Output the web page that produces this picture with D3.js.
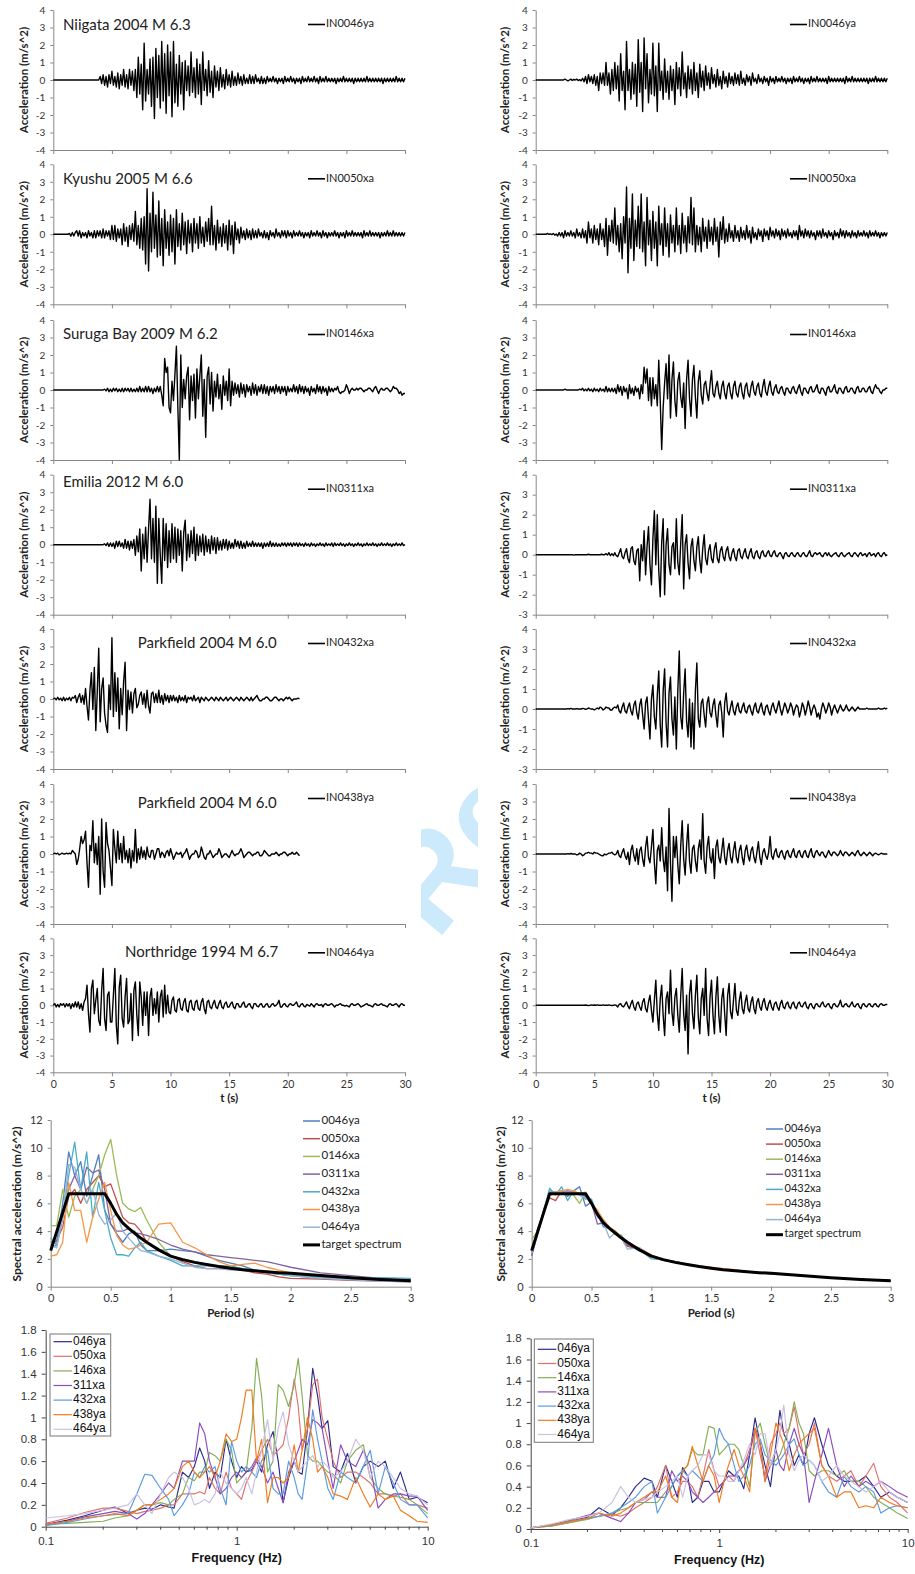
<!DOCTYPE html>
<html><head><meta charset="utf-8">
<script src="https://cdn.jsdelivr.net/npm/d3@7"></script>
<style>body{margin:0;background:#fff}svg{display:block}</style>
</head><body>
<script>
// ---------------- DATA ----------------
const DT = 0.125;
const recordIds = ["IN0046ya","IN0050xa","IN0146xa","IN0311xa","IN0432xa","IN0438ya","IN0464ya"];
const eventTitles = ["Niigata 2004 M 6.3","Kyushu 2005 M 6.6","Suruga Bay 2009 M 6.2","Emilia 2012 M 6.0","Parkfield 2004 M 6.0","Parkfield 2004 M 6.0","Northridge 1994 M 6.7"];
const timeTicks = [0,5,10,15,20,25,30];
const origYMin = [-4,-4,-4,-4,-4,-4,-4];
const matchYMin = [-4,-4,-4,-3,-3,-4,-4];

// original records (left column) — one row per second
const accOrig0046ya = [
0,0,0,0,0,0,0,0, 0,0,0,0,0,0,0,0, 0,0,0,0,0,0,0,0, 0,0,0,0,0,0,0,0,
0.2,-0.2,0.3,-0.3,0.2,-0.4,0.3,-0.2,
0.5,-0.3,0.2,-0.4,0.4,-0.5,0.3,-0.3,
0.6,-0.4,0.3,-0.5,0.6,-0.3,0.5,-0.6,
0.6,-1.0,1.3,-0.8,0.9,-1.7,2.1,-1.2,
0.6,-0.8,1.2,-1.5,1.3,-2.2,1.8,-1.0,
1.4,-1.6,2.2,-1.2,1.5,-1.9,2.0,-0.9,
1.6,-2.1,2.2,-1.3,0.9,-1.5,1.4,-0.8,
1.0,-1.7,1.1,-0.6,0.8,-0.9,1.6,-0.7,
0.7,-1.0,1.2,-0.8,0.9,-1.4,1.6,-0.6,
0.6,-0.9,1.1,-0.7,0.5,-1.0,0.8,-0.4,
0.5,-0.6,0.7,-0.4,0.3,-0.5,0.6,-0.3,
0.3,-0.4,0.5,-0.3,0.2,-0.3,0.4,-0.2,
0.2,-0.3,0.3,-0.2,0.1,-0.2,0.3,-0.2,
0.2,-0.2,0.3,-0.1,0.1,-0.2,0.2,-0.2,
0.1,-0.2,0.2,-0.1,0.1,-0.1,0.2,-0.1,
0.1,-0.2,0.1,-0.1,0.1,-0.2,0.2,-0.1,
0.1,-0.1,0.2,-0.1,0.1,-0.2,0.1,-0.1,
0.1,-0.2,0.2,-0.1,0.1,-0.1,0.2,-0.1,
0.1,-0.1,0.2,-0.1,0.1,-0.2,0.2,-0.1,
0.1,-0.1,0.2,-0.1,0.1,-0.1,0.1,-0.1,
0.1,-0.2,0.1,-0.1,0.1,-0.1,0.2,-0.1,
0.1,-0.1,0.1,-0.1,0.1,-0.2,0.1,-0.1,
0.1,-0.1,0.1,-0.1,0.1,-0.1,0.2,-0.1,
0.1,-0.1,0.1,-0.1,0.1,-0.1,0.1,-0.1,
0.1,-0.2,0.1,-0.1,0.1,-0.1,0.1,-0.1,
0.1,-0.1,0.2,-0.1,0.1,-0.1,0.1,-0.1,
0.1];
const accOrig0050xa = [
0,0,0,0,0,0,0,0,
0,0,0,0.05,-0.1,0.1,-0.1,0.1,
0.2,-0.1,0.2,-0.2,0.1,-0.1,0.1,-0.2,
0.2,-0.1,0.1,-0.2,0.2,-0.2,0.2,-0.1,
0.2,-0.2,0.3,-0.2,0.2,-0.1,0.2,-0.3,
0.5,-0.3,0.5,-0.4,0.3,-0.2,0.3,-0.6,
0.6,-0.4,0.4,-0.7,0.5,-0.3,0.6,-0.4,
1.3,-0.6,0.5,-0.8,0.9,-0.9,1.0,-1.7,
2.6,-2.1,1.2,-1.0,2.4,-0.8,1.1,-1.3,
1.9,-1.2,0.9,-1.8,1.4,-0.8,0.7,-1.2,
1.1,-1.0,0.9,-1.7,1.4,-0.7,0.6,-0.9,
1.2,-0.6,0.7,-1.1,0.8,-0.5,0.6,-1.0,
0.9,-0.5,0.6,-0.8,1.0,-0.5,0.4,-0.7,
0.7,-0.4,0.9,-0.6,1.6,-0.6,0.5,-0.9,
0.8,-0.5,0.4,-0.7,0.6,-0.5,0.5,-0.9,
0.8,-0.6,0.5,-1.1,0.7,-0.3,0.3,-0.5,
0.4,-0.2,0.2,-0.3,0.3,-0.2,0.2,-0.3,
0.3,-0.2,0.2,-0.2,0.3,-0.1,0.1,-0.2,
0.2,-0.2,0.1,-0.3,0.2,-0.1,0.1,-0.2,
0.3,-0.1,0.1,-0.2,0.2,-0.1,0.2,-0.2,
0.2,-0.1,0.1,-0.2,0.2,-0.1,0.1,-0.1,
0.2,-0.1,0.1,-0.2,0.1,-0.1,0.1,-0.2,
0.2,-0.1,0.1,-0.1,0.2,-0.1,0.1,-0.2,
0.2,-0.1,0.1,-0.2,0.1,-0.1,0.1,-0.1,
0.2,-0.1,0.1,-0.2,0.1,-0.1,0.1,-0.2,
0.2,-0.1,0.1,-0.1,0.2,-0.1,0.1,-0.1,
0.1,-0.1,0.1,-0.2,0.2,-0.1,0.1,-0.1,
0.2,-0.1,0.1,-0.1,0.1,-0.1,0.1,-0.2,
0.1,-0.1,0.1,-0.1,0.2,-0.1,0.1,-0.1,
0.2,-0.1,0.1,-0.1,0.1,-0.1,0.1,-0.1,
0.1];
const accOrig0146xa = [
0,0,0,0,0,0,0,0, 0,0,0,0,0,0,0,0, 0,0,0,0,0,0,0,0, 0,0,0,0,0,0,0,0,
0,0,0,0.05,-0.05,0.1,-0.1,0.05,
-0.1,0.1,-0.05,0.1,-0.1,0.05,-0.1,0.1,
-0.1,0.1,-0.05,0.1,-0.1,0.1,-0.1,0.05,
-0.1,0.1,-0.1,0.2,-0.1,0.1,-0.1,0.2,
-0.1,0.2,-0.1,0.1,-0.2,0.1,-0.1,0.2,
-0.1,0.2,-0.3,-0.9,1.8,1.0,1.3,-1.0,
-1.3,0.5,-0.6,0.9,2.5,-1.0,-4.0,2.0,
-1.0,0.6,-0.5,0.8,1.3,-1.7,0.8,-0.6,
0.9,-1.6,1.2,-0.5,0.8,2.0,-1.5,0.6,
-2.7,0.8,1.3,-0.8,1.0,-1.2,0.5,-0.4,
0.9,-0.5,0.3,-1.1,0.8,-0.3,0.5,-0.6,
1.2,-0.9,0.5,-0.3,0.4,-0.2,0.3,-0.4,
0.4,-0.2,0.3,-0.4,0.3,-0.1,0.2,-0.3,
0.4,-0.2,0.3,-0.3,0.2,-0.1,0.3,-0.2,
0.3,-0.2,0.2,-0.3,0.2,-0.1,0.2,-0.2,
0.3,-0.1,0.2,-0.2,0.2,-0.1,0.2,-0.3,
0.2,-0.1,0.1,-0.1,0.3,-0.1,0.2,-0.2,
0.3,-0.1,0.2,-0.2,0.2,-0.1,0.1,-0.3,
0.2,-0.1,0.1,-0.2,0.3,-0.1,0.2,-0.2,
0.2,-0.1,0.1,-0.3,0.2,-0.1,0.1,-0.1,
0.1,0.0,0.2,-0.1,-0.2,-0.1,-0.1,0.0,
0.3,0.1,-0.2,0.0,0.1,0.0,0.0,0.1,
0.0,0.1,0.1,0.0,-0.1,0.0,0.0,0.1,
0.1,0.0,-0.1,0.1,0.2,0.0,-0.2,0.0,
0.1,0.0,0.0,0.1,0.1,0.0,-0.1,0.0,
0.2,0.1,0.1,0.0,-0.2,-0.1,-0.3,-0.2,
-0.2];
const accOrig0311xa = [
0,0,0,0,0,0,0,0, 0,0,0,0,0,0,0,0, 0,0,0,0,0,0,0,0, 0,0,0,0,0,0,0,0,
0,0,0,0.05,-0.05,0.1,-0.1,0.1,
-0.1,0.1,-0.2,0.2,-0.1,0.2,-0.1,0.1,
-0.2,0.3,-0.2,0.2,-0.3,0.2,-0.2,0.3,
-0.6,0.5,-0.4,0.9,-1.5,0.6,-0.8,1.0,
-1.0,0.9,2.6,-0.8,1.5,-1.0,2.2,-2.2,
1.5,-0.6,-2.2,1.5,-0.9,1.2,-1.3,0.8,
-1.0,1.2,-0.8,1.0,-1.0,0.9,-0.6,0.8,
-1.5,0.7,1.4,-0.9,0.6,-0.7,0.8,-0.5,
1.0,-0.9,0.6,-0.6,0.5,-0.4,0.6,-0.6,
0.5,-0.4,0.3,-0.5,0.5,-0.3,0.4,-0.5,
0.4,-0.3,0.2,-0.3,0.3,-0.2,0.3,-0.3,
0.2,-0.2,0.1,-0.2,0.3,-0.1,0.2,-0.2,
0.2,-0.2,0.1,-0.2,0.2,-0.1,0.1,-0.1,
0.2,-0.1,0.1,-0.1,0.1,-0.1,0.1,-0.2,
0.1,-0.1,0.1,-0.1,0.2,-0.1,0.1,-0.1,
0.1,-0.1,0.05,-0.1,0.1,-0.05,0.1,-0.1,
0.1,-0.05,0.1,-0.1,0.1,-0.05,0.1,-0.1,
0.1,-0.05,0.05,-0.1,0.1,-0.05,0.05,-0.1,
0.1,-0.05,0.05,-0.1,0.05,-0.05,0.1,-0.05,
0.05,-0.1,0.1,-0.05,0.05,-0.05,0.1,-0.1,
0.1,-0.05,0.05,-0.05,0.1,-0.05,0.05,-0.1,
0.05,-0.05,0.1,-0.05,0.05,-0.1,0.05,-0.05,
0.1,-0.05,0.05,-0.1,0.05,-0.05,0.1,-0.05,
0.05,-0.05,0.1,-0.05,0.05,-0.1,0.05,-0.05,
0.1,-0.05,0.05,-0.05,0.1,-0.05,0.05,-0.1,
0.05,-0.05,0.1,-0.05,0.05,-0.05,0.1,-0.05,
0.0];
const accOrig0432xa = [
0.0,0.05,-0.05,0.1,-0.05,0.05,-0.1,0.1,
-0.1,0.05,-0.05,0.1,-0.1,0.1,0.05,0.2,
-0.2,0.1,0.3,-0.2,0.2,-0.3,0.6,-0.4,
-1.2,0.5,1.5,-0.6,1.8,-1.8,0.4,2.9,
-1.3,0.6,1.2,-0.8,-1.5,-1.9,0.8,-0.6,
3.5,-1.0,1.5,-0.7,1.2,-1.7,0.6,-0.9,
1.0,2.1,-1.8,0.5,-0.6,0.4,-0.8,0.3,
0.6,-0.5,-0.3,0.2,0.4,-0.3,0.3,-0.5,
0.5,-0.4,-0.8,0.3,0.4,-0.2,0.3,-0.2,
0.5,-0.2,0.2,-0.3,0.3,-0.1,0.2,-0.2,
0.2,-0.1,0.2,-0.1,0.1,-0.2,0.2,-0.1,
0.1,-0.1,0.2,-0.2,0.1,0.0,0.1,-0.1,
0.2,-0.1,0.0,0.1,-0.2,0.1,0.0,-0.1,
0.1,0.0,-0.1,0.0,0.1,0.0,-0.1,0.1,
0.0,-0.1,0.1,0.0,-0.1,0.0,0.1,-0.1,
0.0,0.1,0.0,-0.1,0.0,0.1,0.0,-0.1,
0.1,0.0,-0.1,0.0,0.1,0.0,-0.1,0.1,
-0.1,0.0,0.1,0.2,0.0,-0.1,-0.1,0.0,
0.0,0.1,0.1,0.0,-0.1,-0.1,0.0,0.1,
0.1,0.0,-0.1,0.0,0.0,-0.1,0.0,0.1,
0.0,0.1,0.0,-0.1,0.0,0.0,0.0,0.05,
0.0];
const accOrig0438ya = [
0.0,0.05,0.0,0.05,-0.05,0.0,0.05,0.0,
0.0,0.05,0.0,0.05,0.0,0.2,0.1,0.0,
-0.6,-0.3,0.3,1.0,0.6,0.8,1.3,-0.5,
-1.9,0.5,0.2,1.9,-0.5,0.6,-0.6,1.0,
-2.3,2.0,-1.0,-1.9,1.8,0.6,0.2,-0.8,
-1.8,1.4,0.3,-0.5,1.3,-0.3,0.6,-0.5,
1.0,-0.3,0.2,-0.5,0.3,-0.8,0.2,-0.4,
1.4,-0.5,0.3,-0.3,0.4,-0.2,0.2,-0.3,
0.4,-0.1,-0.2,0.2,0.2,-0.3,0.0,0.3,
0.3,-0.2,0.1,0.0,-0.2,0.1,0.2,-0.1,
0.3,0.0,-0.3,-0.1,0.1,0.0,0.0,0.1,
-0.2,0.0,0.1,0.3,0.0,-0.3,-0.1,0.0,
0.0,0.2,0.1,-0.2,-0.1,0.4,0.1,-0.2,
-0.3,0.0,0.0,0.2,0.0,-0.2,-0.1,0.0,
0.0,0.3,0.1,-0.2,-0.1,0.0,0.0,-0.1,
-0.2,0.0,0.2,0.0,-0.1,0.0,0.0,0.1,
0.3,0.1,-0.2,-0.1,0.0,0.1,0.1,0.0,
-0.1,0.0,0.0,0.1,0.1,-0.1,-0.1,0.0,
0.2,0.1,0.0,-0.1,-0.1,0.0,0.0,0.0,
0.1,0.0,-0.1,0.0,0.0,0.1,0.1,0.0,
-0.1,0.0,0.0,0.1,0.0,0.0,0.1,0.0,
-0.1];
const accOrig0464ya = [
0.0,0.1,-0.1,0.05,-0.1,0.1,0.0,0.1,
-0.1,0.1,-0.05,0.1,-0.2,0.1,-0.1,0.2,
-0.1,0.2,-0.2,0.1,-0.3,0.2,0.4,1.2,
-0.5,-1.6,1.0,1.5,-0.5,0.3,1.0,-0.9,
-1.2,0.9,2.2,-0.8,-1.5,0.6,0.8,-1.0,
-1.0,0.6,2.2,-1.2,-2.3,1.1,1.8,-0.8,
-1.3,0.5,1.6,-1.1,-0.9,0.7,-2.1,0.9,
1.4,-0.6,-1.8,1.4,0.5,-1.2,0.8,-0.6,
0.8,-1.8,0.5,1.0,-0.6,0.4,-0.5,0.8,
-1.0,0.5,0.9,-0.7,1.2,-0.5,0.6,-0.4,
-0.5,0.3,0.5,-0.3,-0.4,0.3,0.4,-0.2,
-0.3,0.2,0.4,-0.3,-0.4,0.2,0.3,-0.2,
-0.3,0.2,0.3,-0.2,-0.3,0.2,0.4,-0.2,
-0.5,0.2,0.3,-0.1,-0.2,0.1,0.3,-0.1,
-0.2,0.1,0.3,-0.1,-0.2,0.1,0.2,-0.1,
-0.1,0.1,0.2,-0.1,-0.2,0.1,0.1,-0.1,
-0.1,0.1,0.2,-0.1,-0.1,0.05,0.1,-0.1,
-0.2,0.1,0.1,-0.05,-0.1,0.05,0.1,-0.1,
-0.1,0.05,0.1,-0.1,-0.1,0.05,0.1,-0.05,
0.0,0.1,0.3,-0.1,-0.1,0.05,0.1,-0.05,
-0.1,0.05,0.1,0.0,0.0,0.1,0.2,-0.05,
-0.1,0.05,0.1,-0.05,-0.1,0.05,0.0,-0.05,
0.1,0.0,-0.1,0.05,0.1,0.0,0.0,0.05,
-0.1,0.05,0.1,0.0,0.0,0.05,0.1,0.0,
-0.1,0.0,0.0,0.05,0.1,0.0,0.0,-0.05,
0.0,-0.05,-0.1,0.05,0.1,0.0,0.0,0.05,
0.1,0.0,-0.1,-0.05,0.0,0.05,0.1,0.0,
0.0,-0.05,-0.1,0.05,0.1,0.0,0.0,0.05,
0.1,0.0,0.0,-0.05,-0.1,0.05,0.1,0.0,
0.0,0.05,0.1,0.0,-0.1,0.05,0.1,0.0,
0.0];

// spectrum-matched records (right column) — one row per second
const accMatch0046ya = [
0,0,0,0,0,0,0,0, 0,0,0,0,0,0,0,0,
0,0,0,0,0.05,0,-0.05,0,
0.05,-0.02,0.03,0,0.05,-0.03,0.02,-0.05,
0.1,-0.1,0.2,-0.2,0.3,-0.1,0.2,-0.2,
0.3,-0.3,0.2,-0.6,0.4,-0.2,0.4,-0.3,
1.0,-0.3,0.4,-0.8,0.6,-0.6,1.0,-0.5,
0.8,-1.2,1.5,-0.6,0.5,-1.7,2.2,-0.6,
0.6,-1.1,1.0,-0.8,0.9,-1.5,2.3,-0.7,
1.0,-1.8,2.4,-0.5,1.5,-1.3,0.6,-0.8,
2.1,-0.9,0.8,-1.8,2.1,-0.6,0.5,-1.1,
1.2,-0.7,0.5,-1.1,0.8,-0.6,0.6,-1.4,
1.0,-0.5,0.7,-0.9,1.6,-0.5,0.4,-1.0,
0.8,-0.5,0.6,-0.8,1.0,-0.6,0.4,-1.0,
0.9,-0.4,0.5,-0.6,0.8,-0.3,0.4,-0.5,
0.7,-0.2,0.3,-0.4,0.6,-0.3,0.2,-0.5,
0.5,-0.2,0.2,-0.4,0.4,-0.2,0.2,-0.3,
0.4,-0.2,0.3,-0.3,0.5,-0.2,0.1,-0.3,
0.3,-0.1,0.2,-0.3,0.4,-0.1,0.1,-0.2,
0.3,-0.1,0.1,-0.2,0.2,-0.1,0.1,-0.3,
0.2,-0.1,0.1,-0.2,0.2,-0.1,0.1,-0.1,
0.2,-0.1,0.1,-0.2,0.1,-0.1,0.1,-0.2,
0.2,-0.1,0.1,-0.1,0.2,-0.1,0.1,-0.2,
0.1,-0.1,0.1,-0.2,0.2,-0.1,0.1,-0.1,
0.2,-0.1,0.1,-0.1,0.1,-0.1,0.1,-0.2,
0.2,-0.1,0.1,-0.1,0.1,-0.1,0.1,-0.1,
0.1,-0.1,0.1,-0.2,0.2,-0.1,0.1,-0.1,
0.2,-0.1,0.1,-0.1,0.1,-0.1,0.1,-0.1,
0.1,-0.1,0.1,-0.2,0.1,-0.1,0.1,-0.1,
0.2,-0.1,0.1,-0.1,0.1,-0.1,0.1,-0.1,
0.1];
const accMatch0050xa = [
0,0,0,0,0,0,0,0,
0.05,0,0.02,-0.02,0.05,-0.05,0.02,-0.1,
0.1,-0.1,0.1,-0.2,0.2,-0.1,0.1,-0.1,
0.2,-0.1,0.1,-0.2,0.3,-0.1,0.1,-0.2,
0.3,-0.2,0.2,-0.5,0.7,-0.2,0.3,-0.5,
0.5,-0.3,0.3,-0.6,0.6,-0.3,0.3,-0.7,
0.9,-1.2,0.5,-0.4,0.8,-0.5,1.5,-0.6,
0.5,-1.0,0.6,-1.4,1.0,-0.5,2.7,-2.2,
0.9,-0.8,2.3,-1.5,0.8,-0.7,1.6,-0.8,
2.3,-1.0,0.7,-1.8,2.1,-0.6,0.8,-1.5,
1.3,-0.8,0.7,-1.8,1.6,-0.6,0.6,-1.2,
1.5,-0.7,0.6,-1.3,1.1,-0.5,0.5,-1.0,
1.5,-0.6,0.5,-1.1,1.2,-0.5,0.5,-1.0,
1.0,-0.5,2.1,-0.6,1.5,-1.0,0.5,-0.6,
0.4,-1.0,0.9,-0.4,0.4,-0.8,0.8,-0.4,
0.4,-0.6,0.9,-0.4,0.4,-1.3,0.7,-0.3,
1.0,-0.5,0.3,-0.4,0.6,-0.2,0.2,-0.4,
0.5,-0.2,0.2,-0.4,0.4,-0.2,0.2,-0.3,
0.5,-0.2,0.2,-0.5,0.4,-0.2,0.1,-0.3,
0.3,-0.1,0.2,-0.4,0.3,-0.1,0.2,-0.3,
0.4,-0.1,0.2,-0.2,0.3,-0.1,0.2,-0.3,
0.3,-0.1,0.2,-0.2,0.3,-0.1,0.1,-0.2,
0.2,-0.1,0.2,-0.3,0.5,-0.1,0.2,-0.2,
0.3,-0.1,0.2,-0.2,0.2,-0.1,0.1,-0.3,
0.2,-0.1,0.2,-0.2,0.3,-0.1,0.1,-0.2,
0.2,-0.1,0.1,-0.3,0.2,-0.1,0.1,-0.2,
0.3,-0.1,0.2,-0.2,0.2,-0.1,0.1,-0.2,
0.2,-0.1,0.1,-0.2,0.2,-0.1,0.1,-0.1,
0.2,-0.1,0.1,-0.2,0.2,-0.1,0.1,-0.1,
0.2,-0.1,0.1,-0.2,0.1,-0.1,0.1,-0.1,
0.1];
const accMatch0146xa = [
0,0,0,0,0,0,0,0, 0,0,0,0,0,0,0,0,
0,0,0,0,0.05,0,0,0,
0,0,0,0,0,0,0.05,0,
0.1,-0.05,0.05,-0.05,0.1,-0.05,0.05,-0.1,
0.1,-0.05,0.05,-0.1,0.1,-0.05,0.05,-0.1,
0.2,-0.1,0.1,-0.1,0.1,-0.1,0.1,-0.2,
0.3,-0.1,0.2,-0.3,0.2,-0.1,0.1,-0.5,
0.3,-0.2,0.1,-0.3,0.2,-0.1,0.1,-0.5,
0.3,-0.2,1.3,0.4,1.2,-0.6,0.7,-0.9,
0.7,-0.5,0.3,-0.9,1.7,-0.6,-3.4,-1.0,
0.4,1.5,-0.5,2.0,-1.6,0.6,1.6,-0.6,
-1.5,0.5,1.0,-0.4,-1.0,0.4,-2.2,0.6,
1.7,-0.5,-1.5,0.6,1.4,-0.4,-1.6,0.5,
1.1,-0.3,-0.8,0.3,0.5,-0.2,-0.6,0.3,
1.1,-0.2,-0.4,0.2,0.5,-0.2,-0.5,0.2,
0.5,-0.2,-0.5,0.2,0.4,-0.2,-0.5,0.2,
0.5,-0.2,-0.4,0.2,0.4,-0.2,-0.5,0.2,
0.4,-0.2,-0.4,0.2,0.5,-0.1,-0.3,0.2,
0.4,-0.2,-0.4,0.2,0.6,-0.1,-0.3,0.2,
0.5,-0.1,-0.3,0.1,0.3,-0.1,-0.2,0.1,
0.2,-0.1,-0.3,0.1,0.1,-0.1,-0.2,0.1,
0.2,-0.1,-0.2,0.1,0.3,-0.1,-0.3,0.1,
0.1,-0.1,-0.2,0.1,0.2,-0.1,-0.1,0.1,
0.3,-0.1,-0.2,0.1,0.1,-0.1,-0.3,0.1,
0.2,-0.1,-0.1,0.1,0.3,-0.1,-0.2,0.1,
0.1,-0.1,-0.2,0.1,0.2,-0.1,-0.1,0.1,
0.1,-0.1,-0.2,0.1,0.2,-0.1,-0.1,0.1,
0.1,-0.1,-0.1,0.1,0.2,-0.1,-0.2,0.1,
0.3,0.1,0.1,-0.1,-0.2,0.0,0.0,0.1,
0.1];
const accMatch0311xa = [
0,0,0,0,0,0,0,0, 0,0,0,0,0,0,0,0, 0,0,0,0,0,0,0,0,
0,0,-0.02,0,0,0,0,0,
0,0,0,0,0.02,0,0,0,
0,0,0,0,0,0.02,0,0,
0.05,-0.02,0.1,-0.05,0.05,-0.05,0.1,-0.05,
-0.1,0.1,0.3,-0.1,-0.2,0.1,0.3,-0.2,
-0.4,0.3,0.4,-0.3,-0.5,0.2,0.3,-1.3,
0.5,-0.3,1.2,-1.0,0.4,1.4,-0.5,-1.5,
0.8,2.2,-0.5,2.0,-0.8,-2.1,0.6,1.8,
-2.0,0.5,1.3,-0.5,-1.0,0.4,0.6,-0.7,
1.8,-0.4,-1.0,0.6,2.0,-1.7,0.5,1.0,
-0.4,-1.2,0.4,0.8,-0.3,-0.8,0.4,0.9,
-0.3,-0.9,0.3,1.0,-0.2,-0.5,0.2,0.5,
-0.2,-0.4,0.3,0.6,-0.2,-0.4,0.2,0.4,
-0.1,-0.3,0.2,0.4,-0.1,-0.3,0.1,0.3,
-0.1,-0.3,0.2,0.3,-0.1,-0.2,0.1,0.3,
-0.1,-0.2,0.1,0.3,-0.1,-0.2,0.1,0.2,
-0.1,-0.2,0.1,0.2,-0.05,-0.1,0.1,0.2,
-0.05,-0.1,0.1,0.2,-0.05,-0.1,0.05,0.1,
-0.05,-0.2,0.05,0.1,-0.05,-0.1,0.05,0.1,
-0.05,-0.1,0.05,0.1,-0.05,-0.1,0.05,0.1,
-0.05,-0.1,0.05,0.2,-0.05,-0.1,0.05,0.1,
0.0,0.05,0.1,-0.05,-0.1,0.05,0.1,-0.05,
0.1,-0.05,-0.1,0.0,0.05,0.1,-0.05,-0.1,
0.05,0.1,-0.05,-0.1,0.0,0.05,0.1,-0.05,
-0.1,0.05,0.1,0.0,-0.1,0.05,0.1,-0.05,
0.0,0.05,-0.1,0.05,0.1,-0.05,0.0,0.05,
-0.1,0.05,0.1,-0.05,-0.1,0.05,0.1,-0.05,
0.0];
const accMatch0432xa = [
0,0,0,0,0,0,0,0, 0,0,0,0,0,0,0,0,
0,0,0,0,0,0,0.02,0,
0.03,0,0,0,0.02,0,0,0,
0.03,0.02,-0.02,0,0.05,0.02,0,0,
-0.05,0,0.05,0,0.1,0.05,-0.05,0,
0.1,0.05,0.05,-0.05,-0.05,0.05,0.1,0.05,
0.2,-0.1,-0.2,0.1,0.3,-0.1,-0.2,0.1,
0.3,-0.1,-0.3,0.2,0.4,-0.2,-0.5,0.2,
0.5,-0.3,-1.0,0.3,0.6,-0.5,-1.5,0.5,
1.2,-0.4,-1.0,0.7,1.9,-0.8,-1.9,0.9,
2.0,-0.7,-1.9,0.8,1.6,-0.5,-1.3,0.6,
-2.0,0.9,2.9,-0.4,-1.0,0.8,2.0,-0.6,
-1.4,0.5,-1.9,0.3,-2.0,0.9,2.3,-0.5,
-0.9,0.3,0.5,-0.3,-0.9,0.3,0.6,-0.2,
-0.4,0.2,0.5,-0.3,-0.9,0.2,0.4,-0.2,
-1.4,0.3,0.8,-0.1,-0.3,0.1,0.4,-0.1,
-0.3,0.1,0.3,-0.1,-0.2,0.1,0.3,-0.1,
-0.2,0.1,0.2,-0.1,-0.3,0.1,0.3,-0.1,
-0.2,0.1,0.3,-0.1,-0.3,0.1,0.2,-0.1,
-0.3,0.1,0.3,0.0,-0.2,0.1,0.4,0.0,
-0.3,0.0,0.3,0.1,-0.2,0.0,0.3,0.1,
-0.3,0.0,0.2,0.1,-0.4,-0.1,0.3,0.1,
-0.3,0.0,0.4,0.1,-0.3,0.0,0.2,0.0,
-0.4,-0.2,-0.5,0.0,0.3,0.1,-0.2,0.0,
0.3,0.1,-0.3,0.0,0.2,0.0,-0.2,0.0,
0.2,0.0,-0.1,0.0,0.2,0.0,-0.1,0.0,
0.1,0.0,-0.1,0.0,0.1,0.0,0.0,0.0,
0.0,0.0,0.05,0.0,0.0,0.0,0.0,0.0,
0.0,0.0,0.05,0.0,0.0,0.0,0.05,0.0,
0.05];
const accMatch0438ya = [
0,0,0,0,0,0,0,0, 0,0,0,0,0,0,0,0,
0,0,0,0,0,0,0.02,0,
0.03,0,0,0,-0.05,-0.03,0.05,0,
-0.1,-0.05,0.05,0.05,0.1,0.05,0.05,0,
0.1,0.05,0.05,0,-0.05,-0.1,-0.1,0,
-0.05,0,0.05,0.05,0.1,0,-0.05,0,
0.2,-0.1,-0.2,0.1,0.3,-0.1,-0.3,0.1,
-0.6,0.2,0.5,-0.1,-0.4,0.3,-0.6,0.2,
0.4,-0.3,-0.7,0.4,1.0,-0.2,-0.5,0.4,
1.4,-0.5,-1.7,0.2,0.5,-0.4,1.5,-0.3,
-1.0,0.4,-2.1,2.6,-0.5,-2.7,1.0,-0.2,
1.0,-0.6,-1.7,0.5,1.9,-0.3,-1.2,0.5,
1.7,-0.4,-1.1,0.3,0.5,-0.4,-1.0,0.3,
0.8,-0.3,2.3,-0.4,-1.1,0.4,1.0,-0.2,
-0.5,0.3,-1.4,0.4,0.8,-0.2,-0.5,0.2,
0.9,-0.2,-0.6,0.2,0.6,-0.2,-0.5,0.2,
0.7,-0.2,-0.5,0.2,0.5,-0.2,-0.6,0.2,
0.5,-0.1,-0.4,0.2,0.4,-0.2,-0.5,0.1,
0.7,-0.2,-0.6,0.1,0.3,-0.1,-0.3,0.1,
1.0,-0.1,-0.3,0.1,0.3,-0.1,-0.2,0.1,
0.2,-0.1,-0.3,0.1,0.2,-0.1,-0.2,0.1,
0.3,-0.1,-0.2,0.1,0.2,-0.1,-0.2,0.1,
0.2,-0.1,-0.2,0.1,0.3,-0.1,-0.2,0.1,
0.2,0.0,-0.1,0.1,0.1,-0.1,-0.2,0.0,
0.2,0.0,-0.1,0.1,0.1,0.0,-0.1,0.0,
0.2,0.0,-0.1,0.1,0.1,0.0,-0.1,0.0,
0.1,0.0,-0.1,0.1,0.2,0.0,-0.1,0.0,
0.1,0.0,-0.1,0.0,0.1,0.0,-0.1,0.0,
0.05,0,-0.05,0,0.05,0,0,0,
0.0];
const accMatch0464ya = [
0,0,0,0,0,0,0,0, 0,0,0,0,0,0,0,0, 0,0,0,0,0,0,0,0, 0,0,0,0,0,0,0,0,
0,0,0.02,0,-0.02,0,0.03,0,
0.02,0,0.03,0,0,0,0.03,0,
0,0,0.03,0,-0.02,0,0.03,0,
-0.1,0.05,0.1,-0.05,-0.1,0.05,0.2,-0.05,
-0.2,0.1,0.3,-0.1,-0.3,0.1,0.2,-0.1,
-0.3,0.2,0.4,-0.2,-0.4,0.2,0.6,-0.3,
-1.0,0.3,1.5,-0.5,-1.5,0.4,1.2,-0.6,
-1.8,0.4,0.8,-0.5,2.1,-0.4,-1.2,0.5,
1.0,-0.6,-1.6,0.6,2.2,-0.5,-1.5,0.6,
-2.9,0.7,1.5,-0.5,-1.4,0.6,1.8,-0.7,
-1.7,0.4,1.0,-0.6,2.2,-0.8,-1.8,0.5,
1.5,-0.6,-1.7,0.5,1.7,-0.6,-1.6,0.4,
1.0,-0.5,-1.8,0.6,1.3,-0.4,-0.8,0.3,
1.3,-0.3,-0.6,0.3,0.8,-0.2,-0.5,0.2,
0.6,-0.2,-0.4,0.2,0.5,-0.2,-0.5,0.2,
0.4,-0.1,-0.3,0.2,0.4,-0.1,-0.3,0.1,
0.3,-0.1,-0.3,0.1,0.2,-0.1,-0.3,0.1,
0.3,-0.1,-0.2,0.1,0.2,-0.1,-0.2,0.1,
0.2,-0.1,-0.2,0.1,0.2,-0.05,-0.1,0.1,
0.2,-0.1,-0.2,0.05,0.1,-0.1,-0.2,0.05,
0.1,-0.05,-0.1,0.1,0.2,-0.05,-0.1,0.05,
0.1,-0.1,-0.2,0.05,0.1,-0.05,-0.1,0.05,
0.3,-0.05,-0.1,0.05,0.1,-0.05,-0.1,0.05,
0.2,-0.05,-0.1,0.05,0.1,-0.1,-0.2,0.05,
0.1,-0.05,-0.1,0.05,0.1,-0.05,-0.1,0.05,
0.1,-0.05,-0.1,0.05,0.1,0,0,0.05,
0.05];

const accOriginal = [accOrig0046ya,accOrig0050xa,accOrig0146xa,accOrig0311xa,accOrig0432xa,accOrig0438ya,accOrig0464ya];
const accMatched = [accMatch0046ya,accMatch0050xa,accMatch0146xa,accMatch0311xa,accMatch0432xa,accMatch0438ya,accMatch0464ya];

// response spectra
const spectraNames = ["0046ya","0050xa","0146xa","0311xa","0432xa","0438ya","0464ya"];
const spectraColors = ["#4F81BD","#C0504D","#9BBB59","#8064A2","#4BACC6","#F79646","#95B3D7"];
const periods = [0,0.05,0.1,0.15,0.2,0.25,0.3,0.35,0.4,0.45,0.5,0.55,0.6,0.65,0.7,0.75,0.8,0.9,1.0,1.1,1.2,1.3,1.4,1.5,1.6,1.7,1.8,1.9,2.0,2.25,2.5,2.75,3.0];
const targetPeriods = [0,0.15,0.45,0.5,0.55,0.6,0.65,0.7,0.75,0.8,0.9,1.0,1.1,1.2,1.3,1.4,1.5,1.6,1.7,1.8,1.9,2.0,2.25,2.5,2.75,3.0];
const targetSa = [2.6,6.7,6.7,6.0,5.2,4.6,4.2,3.85,3.5,3.2,2.65,2.2,1.95,1.75,1.6,1.45,1.33,1.22,1.14,1.07,1.01,0.96,0.8,0.65,0.52,0.43];
const saOrig0046ya = [3.0,3.3,6.0,9.7,8.0,9.0,6.5,8.0,9.5,5.5,4.5,3.8,3.2,3.8,4.0,3.0,2.6,2.6,2.7,2.6,2.5,2.2,1.9,1.7,1.5,1.2,1.0,0.9,0.8,0.6,0.5,0.45,0.4];
const saOrig0050xa = [3.2,3.3,4.3,6.5,7.0,6.0,7.0,7.5,8.0,7.2,7.4,6.2,5.0,4.6,4.5,4.0,3.2,2.6,2.2,1.8,1.5,1.3,1.3,1.3,1.2,1.0,0.9,0.7,0.6,0.55,0.45,0.4,0.35];
const saOrig0146xa = [4.4,4.4,7.0,5.0,6.5,7.0,6.0,7.0,8.0,9.5,10.6,8.0,6.0,5.6,5.4,5.7,4.8,3.2,2.2,2.0,1.8,1.6,1.5,1.4,1.3,1.2,1.1,1.0,0.9,0.7,0.6,0.5,0.45];
const saOrig0311xa = [2.8,3.0,5.0,7.0,8.0,7.0,8.6,8.2,8.4,7.0,4.5,4.0,4.0,4.2,3.9,3.8,3.7,3.4,3.0,2.7,2.5,2.3,2.2,2.1,2.0,1.9,1.8,1.6,1.4,1.0,0.8,0.6,0.5];
const saOrig0432xa = [3.5,3.0,5.0,8.0,10.4,7.0,9.7,5.0,7.5,5.5,3.5,2.3,2.3,2.2,2.8,3.2,2.6,2.2,1.9,1.5,1.5,1.5,1.5,1.5,1.3,1.1,1.0,0.9,0.8,0.7,0.6,0.65,0.6];
const saOrig0438ya = [2.2,2.3,3.2,7.5,5.5,5.5,3.2,5.0,6.3,7.5,5.5,3.7,3.0,2.7,2.8,3.0,3.2,4.5,4.6,3.2,2.8,2.3,1.8,1.5,1.6,1.7,1.4,1.2,1.0,0.8,0.7,0.5,0.35];
const saOrig0464ya = [3.0,2.8,5.0,8.8,8.6,7.0,6.0,7.0,5.2,4.5,4.8,5.3,4.0,3.5,3.0,2.6,2.5,2.2,2.0,1.7,1.4,1.3,1.3,1.2,1.2,1.1,1.0,0.9,0.8,0.6,0.5,0.4,0.35];
const saMatch0046ya = [2.3,4.0,5.5,6.9,6.8,6.9,6.5,6.9,7.2,5.8,6.1,5.2,4.3,4.2,3.9,3.6,3.0,2.7,2.2,1.9,1.8,1.6,1.45,1.35,1.25,1.15,1.08,1.0,0.95,0.8,0.65,0.52,0.43];
const saMatch0050xa = [2.5,4.2,5.3,6.4,6.2,6.9,6.8,6.8,6.7,6.5,6.0,5.3,4.7,4.2,3.8,3.5,2.9,2.7,2.2,1.9,1.75,1.6,1.45,1.35,1.22,1.15,1.05,1.0,0.95,0.8,0.65,0.52,0.43];
const saMatch0146xa = [3.4,4.0,5.5,6.8,6.7,6.8,6.7,6.6,6.0,6.8,6.0,5.4,4.8,4.2,4.0,3.6,3.1,2.7,2.2,1.9,1.8,1.6,1.45,1.35,1.25,1.15,1.07,1.0,0.95,0.8,0.65,0.52,0.43];
const saMatch0311xa = [2.2,3.8,5.3,6.6,6.7,6.8,6.9,6.8,6.7,6.5,6.0,4.5,4.6,4.3,3.8,3.5,3.0,2.6,2.2,1.95,1.75,1.6,1.45,1.33,1.22,1.14,1.07,1.0,0.95,0.8,0.65,0.52,0.43];
const saMatch0432xa = [2.5,4.0,5.4,7.1,6.6,7.2,6.2,6.9,6.6,6.3,6.3,5.2,4.6,4.2,3.8,3.7,3.1,2.7,2.0,1.95,1.8,1.6,1.45,1.35,1.22,1.14,1.05,1.0,0.96,0.8,0.65,0.52,0.43];
const saMatch0438ya = [2.7,4.1,5.4,6.8,6.8,6.9,7.0,6.9,6.7,6.8,6.0,5.5,4.8,4.3,4.0,3.6,3.1,2.8,2.3,1.95,1.8,1.6,1.5,1.4,1.3,1.22,1.1,1.02,0.97,0.82,0.66,0.53,0.43];
const saMatch0464ya = [2.4,4.0,5.4,6.8,6.7,6.8,6.8,6.8,6.6,6.4,6.0,5.0,4.6,3.5,3.9,3.5,2.7,2.8,2.2,1.9,1.75,1.6,1.45,1.33,1.22,1.14,1.07,1.0,0.95,0.8,0.65,0.52,0.43];
const saOriginal = [saOrig0046ya,saOrig0050xa,saOrig0146xa,saOrig0311xa,saOrig0432xa,saOrig0438ya,saOrig0464ya];
const saMatched = [saMatch0046ya,saMatch0050xa,saMatch0146xa,saMatch0311xa,saMatch0432xa,saMatch0438ya,saMatch0464ya];

// Fourier amplitude spectra
const fourierNames = ["046ya","050xa","146xa","311xa","432xa","438ya","464ya"];
const fourierColors = ["#2B2B8C","#E0706C","#85AD55","#8A4CBE","#5A9BE0","#F27A1E","#CBBFE2"];
const freqs = [0.1,0.13,0.16,0.2,0.23,0.27,0.3,0.33,0.36,0.4,0.44,0.47,0.52,0.56,0.6,0.64,0.68,0.72,0.77,0.82,0.88,0.94,1.0,1.06,1.12,1.2,1.27,1.35,1.45,1.55,1.65,1.75,1.87,2.0,2.1,2.2,2.35,2.5,2.65,2.8,3.0,3.2,3.5,3.8,4.2,4.6,5.0,5.5,6.0,6.6,7.2,8.0,8.8,10];
const faOrig046ya = [0.02,0.06,0.1,0.15,0.18,0.12,0.15,0.17,0.16,0.2,0.18,0.17,0.5,0.45,0.55,0.72,0.6,0.35,0.5,0.45,0.8,0.6,0.45,0.55,0.5,0.52,0.6,0.5,0.75,0.87,0.6,0.22,0.45,0.6,0.5,0.48,0.9,1.45,1.2,0.9,0.97,0.55,0.5,0.67,0.4,0.55,0.6,0.55,0.6,0.35,0.5,0.25,0.27,0.22];
const faOrig050xa = [0.03,0.08,0.13,0.17,0.17,0.14,0.12,0.14,0.15,0.17,0.2,0.2,0.3,0.3,0.3,0.32,0.3,0.45,0.35,0.3,0.5,0.35,0.3,0.25,0.4,0.5,0.6,0.7,0.8,0.65,0.7,0.75,1.0,1.35,1.1,0.7,0.9,1.3,1.35,1.0,0.8,0.6,0.45,0.5,0.5,0.45,0.4,0.3,0.3,0.28,0.3,0.2,0.2,0.17];
const faOrig146xa = [0.02,0.03,0.04,0.05,0.08,0.1,0.15,0.2,0.2,0.22,0.2,0.25,0.3,0.45,0.42,0.5,0.5,0.68,0.65,0.6,0.8,0.7,0.4,0.45,0.5,0.9,1.54,1.2,0.5,0.6,1.3,1.25,1.1,1.3,1.54,1.2,0.65,0.6,0.6,0.55,0.5,0.48,0.4,0.6,0.7,0.75,0.45,0.35,0.3,0.28,0.27,0.25,0.2,0.12];
const faOrig311xa = [0.02,0.05,0.09,0.12,0.14,0.12,0.07,0.12,0.2,0.3,0.4,0.35,0.6,0.6,0.6,0.95,0.85,0.6,0.45,0.3,0.35,0.45,0.5,0.45,0.5,0.55,0.63,0.55,0.4,0.5,0.35,0.22,0.5,0.6,0.7,0.8,0.75,0.98,0.95,0.9,0.6,0.35,0.75,0.6,0.55,0.7,0.55,0.17,0.25,0.3,0.3,0.28,0.28,0.15];
const faOrig432xa = [0.01,0.04,0.07,0.1,0.11,0.12,0.3,0.48,0.47,0.35,0.25,0.1,0.2,0.3,0.5,0.45,0.55,0.5,0.55,0.35,0.2,0.78,0.6,0.5,0.55,0.5,0.45,0.6,0.7,0.35,0.3,0.3,0.6,0.45,0.3,0.25,0.6,1.07,0.8,0.6,0.35,0.25,0.5,0.45,0.4,0.55,0.7,0.3,0.55,0.4,0.25,0.2,0.2,0.08];
const faOrig438ya = [0.02,0.05,0.08,0.1,0.12,0.1,0.15,0.2,0.2,0.25,0.3,0.35,0.55,0.6,0.5,0.45,0.5,0.55,0.45,0.6,0.85,0.78,0.8,1.0,1.25,1.25,0.6,0.8,0.22,0.45,0.45,0.4,0.45,0.75,0.5,0.7,1.0,0.8,0.5,0.55,0.45,0.3,0.28,0.25,0.45,0.3,0.18,0.3,0.25,0.28,0.15,0.1,0.05,0.04];
const faOrig464ya = [0.08,0.1,0.12,0.15,0.17,0.2,0.3,0.2,0.12,0.3,0.45,0.5,0.45,0.35,0.2,0.22,0.25,0.22,0.3,0.5,0.4,0.35,0.3,0.35,0.45,0.3,0.5,0.7,0.98,0.6,0.9,1.05,0.75,0.6,0.5,0.55,0.6,0.65,0.55,0.6,0.55,0.45,0.5,0.6,0.8,0.7,0.45,0.6,0.55,0.45,0.35,0.3,0.28,0.2];
const faMatch046ya = [0.01,0.04,0.07,0.11,0.2,0.13,0.2,0.3,0.4,0.48,0.45,0.3,0.6,0.45,0.3,0.58,0.5,0.25,0.3,0.45,0.45,0.35,0.35,0.45,0.55,0.5,0.5,0.38,0.7,1.05,0.8,0.6,0.4,0.8,1.12,0.9,0.8,0.6,0.7,0.6,0.9,1.05,0.8,0.6,0.5,0.45,0.45,0.45,0.5,0.4,0.3,0.35,0.3,0.25];
const faMatch050xa = [0.01,0.03,0.06,0.1,0.12,0.14,0.12,0.15,0.2,0.25,0.3,0.4,0.6,0.3,0.35,0.45,0.45,0.4,0.3,0.5,0.75,0.55,0.4,0.45,0.5,0.45,0.55,0.6,0.75,0.95,0.7,0.5,0.8,0.9,1.0,0.9,0.95,1.15,0.9,0.7,0.8,1.0,0.6,0.5,0.45,0.5,0.55,0.4,0.5,0.62,0.4,0.3,0.25,0.15];
const faMatch146xa = [0.01,0.03,0.06,0.09,0.12,0.15,0.18,0.2,0.25,0.25,0.25,0.25,0.35,0.4,0.5,0.55,0.6,0.75,0.7,0.7,0.97,0.95,0.7,0.75,0.8,0.8,0.75,0.6,0.4,0.9,1.0,0.8,0.6,0.65,0.7,0.8,0.95,1.2,1.0,0.9,0.55,0.5,0.55,0.55,0.5,0.55,0.45,0.45,0.4,0.3,0.25,0.2,0.15,0.1];
const faMatch311xa = [0.01,0.04,0.08,0.13,0.15,0.1,0.07,0.15,0.25,0.28,0.35,0.3,0.3,0.55,0.45,0.5,0.45,0.35,0.3,0.25,0.3,0.35,0.4,0.45,0.5,0.5,0.55,0.6,0.7,0.95,0.8,0.45,0.6,0.75,0.6,0.55,0.8,0.95,0.8,0.7,0.25,0.45,0.7,0.95,0.6,0.4,0.5,0.4,0.45,0.4,0.45,0.4,0.35,0.3];
const faMatch432xa = [0.01,0.04,0.07,0.1,0.12,0.15,0.2,0.25,0.3,0.4,0.45,0.15,0.3,0.4,0.5,0.55,0.5,0.55,0.5,0.45,0.6,0.7,0.95,0.85,0.8,0.6,0.45,0.5,0.6,0.8,0.85,0.7,0.65,0.6,0.65,0.7,0.8,0.85,0.7,0.6,0.65,0.6,0.45,0.35,0.3,0.5,0.4,0.35,0.4,0.35,0.15,0.2,0.22,0.2];
const faMatch438ya = [0.01,0.04,0.07,0.1,0.15,0.12,0.15,0.2,0.25,0.3,0.35,0.35,0.5,0.3,0.25,0.55,0.6,0.78,0.6,0.45,0.6,0.5,0.25,0.45,0.6,0.75,0.6,0.5,0.35,0.95,0.8,0.45,0.7,1.0,0.9,0.8,0.55,0.7,0.8,0.85,0.9,0.95,0.6,0.5,0.3,0.35,0.35,0.2,0.22,0.2,0.3,0.25,0.22,0.2];
const faMatch464ya = [0.01,0.05,0.09,0.12,0.15,0.25,0.4,0.3,0.25,0.28,0.3,0.35,0.4,0.45,0.5,0.3,0.5,0.55,0.6,0.7,0.7,0.55,0.5,0.5,0.45,0.45,0.55,0.65,0.8,0.7,0.9,0.9,0.6,0.75,0.9,1.17,0.7,0.55,0.65,0.7,0.65,0.6,0.45,0.5,0.6,0.5,0.45,0.4,0.35,0.4,0.45,0.35,0.3,0.25];
const faOriginal = [faOrig046ya,faOrig050xa,faOrig146xa,faOrig311xa,faOrig432xa,faOrig438ya,faOrig464ya];
const faMatched = [faMatch046ya,faMatch050xa,faMatch146xa,faMatch311xa,faMatch432xa,faMatch438ya,faMatch464ya];

// ---------------- DRAWING ----------------
const W = 915, H = 1574;
const SANS = "Lato, 'Open Sans', sans-serif";
const ARIAL = "'Liberation Sans', Arial, sans-serif";
const svg = d3.select("body").append("svg").attr("width", W).attr("height", H)
  .style("font-family", SANS);
svg.append("rect").attr("width", W).attr("height", H).attr("fill", "#fff");

// faint review watermark, visible only in the gutter between the columns
svg.append("text").attr("transform", "translate(452,870) rotate(-50)")
  .attr("text-anchor", "middle").attr("dominant-baseline", "middle")
  .attr("font-family", ARIAL).attr("font-weight", "bold").attr("font-size", 130)
  .attr("fill", "#cdeafc").text("Peer Review");
svg.append("rect").attr("x", 0).attr("y", 0).attr("width", 421).attr("height", H).attr("fill", "#fff");
svg.append("rect").attr("x", 478).attr("y", 0).attr("width", W - 478).attr("height", H).attr("fill", "#fff");

function styleAxis(g, color, fontSize, family) {
  g.select(".domain").attr("stroke", color).attr("stroke-width", 1);
  g.selectAll(".tick line").attr("stroke", color);
  g.selectAll(".tick text").attr("fill", "#333").attr("font-size", fontSize).attr("font-family", family);
}

const panelTops = [10, 164.3, 320, 474.7, 629, 784, 938.3];
const panelH = [140, 140, 140, 140, 140, 140, 134];
const leftTitleX = [63, 63, 63, 63, 137.7, 137.7, 125];
const leftTitleDy = [16.7, 15.7, 15, 8.6, 15.3, 20.3, 15.4];

function accelPanel(o) {
  const x = d3.scaleLinear().domain([0, 30]).range([o.x0, o.x1]);
  const y = d3.scaleLinear().domain([o.ymin, 4]).range([o.top + o.h, o.top]);
  const g = svg.append("g");
  const ya = g.append("g").attr("transform", `translate(${o.x0},0)`)
    .call(d3.axisLeft(y).tickValues(d3.range(o.ymin, 5)).tickSize(3).tickSizeOuter(0).tickPadding(5).tickFormat(d => String(d)));
  styleAxis(ya, "#868686", 10, SANS);
  const xa = g.append("g").attr("transform", `translate(0,${o.top + o.h})`)
    .call(d3.axisBottom(x).tickValues(timeTicks).tickSize(4).tickSizeOuter(0).tickPadding(4).tickFormat(o.showX ? (d => String(d)) : (() => "")));
  styleAxis(xa, "#868686", 10.5, SANS);
  g.append("text").attr("transform", `translate(${o.ylx},${o.top + o.h / 2}) rotate(-90)`)
    .attr("text-anchor", "middle").attr("dominant-baseline", "middle")
    .attr("font-weight", "bold").attr("font-size", 11.5).attr("fill", "#222").text("Acceleration (m/s^2)");
  g.append("path").datum(o.data)
    .attr("d", d3.line().x((d, i) => x(i * DT)).y(d => y(d)))
    .attr("fill", "none").attr("stroke", "#000").attr("stroke-width", 1.4).attr("stroke-linejoin", "round");
  const ly = o.top + 14.5;
  g.append("line").attr("x1", o.lx).attr("x2", o.lx + 17).attr("y1", ly).attr("y2", ly).attr("stroke", "#000").attr("stroke-width", 1.6);
  g.append("text").attr("x", o.lx + 18).attr("y", ly).attr("dominant-baseline", "middle")
    .attr("font-size", 11).attr("fill", "#222").text(o.legend);
  if (o.title) {
    g.append("text").attr("x", o.tx).attr("y", o.ty).attr("dominant-baseline", "middle")
      .attr("font-size", 15).attr("fill", "#222").text(o.title);
  }
  if (o.showX) {
    g.append("text").attr("x", x(15)).attr("y", o.top + o.h + 27).attr("dominant-baseline", "middle")
      .attr("text-anchor", "middle").attr("font-weight", "bold").attr("font-size", 11.5).attr("fill", "#222").text("t (s)");
  }
}

for (let k = 0; k < 7; k++) {
  accelPanel({x0: 53.3, x1: 405, top: panelTops[k], h: panelH[k], ymin: origYMin[k], data: accOriginal[k],
    legend: recordIds[k], lx: 308, ylx: 25, title: eventTitles[k], tx: leftTitleX[k], ty: panelTops[k] + leftTitleDy[k], showX: k === 6});
  accelPanel({x0: 535.7, x1: 887.3, top: panelTops[k], h: panelH[k], ymin: matchYMin[k], data: accMatched[k],
    legend: recordIds[k], lx: 790, ylx: 506, title: null, showX: k === 6});
}

// ---- response spectra ----
function spectraPanel(o) {
  const x = d3.scaleLinear().domain([0, 3]).range([o.x0, o.x1]);
  const y = d3.scaleLinear().domain([0, 12]).range([1286.7, 1120]);
  const g = svg.append("g");
  const ya = g.append("g").attr("transform", `translate(${o.x0},0)`)
    .call(d3.axisLeft(y).tickValues(d3.range(0, 13, 2)).tickSize(3).tickSizeOuter(0).tickPadding(5).tickFormat(d => String(d)));
  styleAxis(ya, "#868686", 11, SANS);
  const xa = g.append("g").attr("transform", `translate(0,1286.7)`)
    .call(d3.axisBottom(x).tickValues([0, 0.5, 1, 1.5, 2, 2.5, 3]).tickSize(4).tickSizeOuter(0).tickPadding(4).tickFormat(d => String(d)));
  styleAxis(xa, "#868686", 11, SANS);
  g.append("text").attr("transform", `translate(${o.ylx},1204) rotate(-90)`).attr("text-anchor", "middle")
    .attr("dominant-baseline", "middle").attr("font-weight", "bold").attr("font-size", 12).attr("fill", "#222")
    .text("Spectral acceleration (m/s^2)");
  g.append("text").attr("x", x(1.5)).attr("y", 1314.3).attr("text-anchor", "middle").attr("dominant-baseline", "middle")
    .attr("font-weight", "bold").attr("font-size", 11.5).attr("fill", "#222").text("Period (s)");
  const line = d3.line().x(d => x(d[0])).y(d => y(d[1]));
  o.series.forEach((s, i) => {
    g.append("path").datum(periods.map((p, j) => [p, s[j]]).filter(d => d[1] !== undefined))
      .attr("d", line).attr("fill", "none").attr("stroke", spectraColors[i]).attr("stroke-width", 1.3).attr("stroke-linejoin", "round");
  });
  g.append("path").datum(targetPeriods.map((p, j) => [p, targetSa[j]]))
    .attr("d", line).attr("fill", "none").attr("stroke", "#000").attr("stroke-width", 3).attr("stroke-linejoin", "round");
  const names = spectraNames.concat(["target spectrum"]);
  names.forEach((n, i) => {
    const ly = o.ly0 + i * o.lstep;
    const last = i === names.length - 1;
    g.append("line").attr("x1", o.lx).attr("x2", o.lx + 17).attr("y1", ly).attr("y2", ly)
      .attr("stroke", last ? "#000" : spectraColors[i]).attr("stroke-width", last ? 3 : 1.5);
    g.append("text").attr("x", o.lx + 18.5).attr("y", ly).attr("dominant-baseline", "middle")
      .attr("font-size", o.lfs).attr("fill", "#222").text(n);
  });
}
spectraPanel({x0: 50.7, x1: 410.7, ylx: 18.3, series: saOriginal, lx: 303, ly0: 1121, lstep: 17.7, lfs: 11.5});
spectraPanel({x0: 531.7, x1: 890.7, ylx: 501.7, series: saMatched, lx: 766, ly0: 1129, lstep: 15.1, lfs: 11});

// ---- Fourier spectra ----
function fourierPanel(o) {
  const x = d3.scaleLog().domain([0.1, 10]).range([o.x0, o.x1]);
  const y = d3.scaleLinear().domain([0, 1.8]).range([o.y0, o.y1]);
  const g = svg.append("g").style("font-family", ARIAL);
  const yTicks = d3.range(0, 10).map(i => +(i * 0.2).toFixed(1));
  const ya = g.append("g").attr("transform", `translate(${o.x0},0)`)
    .call(d3.axisLeft(y).tickValues(yTicks).tickSize(4).tickSizeOuter(0).tickPadding(5).tickFormat(d => String(d)));
  styleAxis(ya, "#444", 11.5, ARIAL);
  const minor = [0.2,0.3,0.4,0.5,0.6,0.7,0.8,0.9,2,3,4,5,6,7,8,9];
  const xa = g.append("g").attr("transform", `translate(0,${o.y0})`)
    .call(d3.axisBottom(x).tickValues([0.1, 1, 10]).tickSize(4).tickSizeOuter(0).tickPadding(6).tickFormat(d => String(d)));
  styleAxis(xa, "#444", 11.5, ARIAL);
  xa.selectAll(".minor").data(minor).enter().append("line").attr("class", "minor")
    .attr("x1", d => x(d)).attr("x2", d => x(d)).attr("y1", 0).attr("y2", 3).attr("stroke", "#444");
  g.append("text").attr("x", (o.x0 + o.x1) / 2).attr("y", o.y0 + 32).attr("text-anchor", "middle")
    .attr("dominant-baseline", "middle").attr("font-weight", "bold").attr("font-size", 12.5).attr("fill", "#111")
    .text("Frequency (Hz)");
  const line = d3.line().x(d => x(d[0])).y(d => y(d[1]));
  o.series.forEach((s, i) => {
    g.append("path").datum(freqs.map((f, j) => [f, s[j]]).filter(d => d[1] !== undefined))
      .attr("d", line).attr("fill", "none").attr("stroke", fourierColors[i]).attr("stroke-width", 1.15).attr("stroke-linejoin", "round");
  });
  g.append("rect").attr("x", o.bx).attr("y", o.by).attr("width", o.bw).attr("height", o.bh)
    .attr("fill", "#fff").attr("stroke", "#777").attr("stroke-width", 1);
  fourierNames.forEach((n, i) => {
    const ly = o.ly0 + i * o.lstep;
    g.append("line").attr("x1", o.bx + 3.5).attr("x2", o.bx + 22).attr("y1", ly).attr("y2", ly)
      .attr("stroke", fourierColors[i]).attr("stroke-width", 1.2);
    g.append("text").attr("x", o.bx + 23).attr("y", ly).attr("dominant-baseline", "middle")
      .attr("font-size", 12).attr("fill", "#111").text(n);
  });
}
fourierPanel({x0: 45.7, x1: 427.7, y0: 1526.7, y1: 1330, series: faOriginal, bx: 50, by: 1334, bw: 60.7, bh: 102, ly0: 1341.7, lstep: 14.6});
fourierPanel({x0: 530.7, x1: 907.7, y0: 1529, y1: 1338.3, series: faMatched, bx: 534.3, by: 1339, bw: 59, bh: 103.3, ly0: 1349.3, lstep: 14.2});
</script>
</body></html>
